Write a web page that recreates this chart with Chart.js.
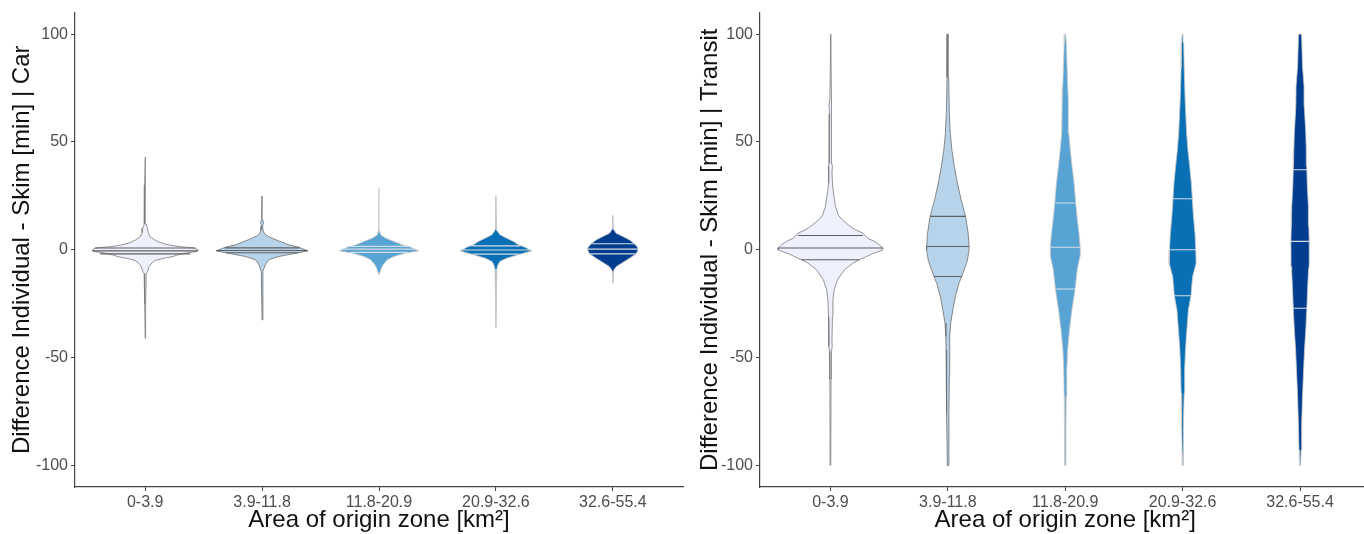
<!DOCTYPE html>
<html>
<head>
<meta charset="utf-8">
<script src="https://cdn.jsdelivr.net/npm/chart.js@4.4.1/dist/chart.umd.min.js"></script>
<style>
  html, body { margin: 0; padding: 0; background: #ffffff; width: 1364px; height: 534px; overflow: hidden; }
  #c1 { position: absolute; left: 0; top: 0; }
  #c2 { position: absolute; left: 688px; top: 0; }
</style>
</head>
<body>
<canvas id="c1" width="688" height="534"></canvas>
<canvas id="c2" width="690" height="534"></canvas>
<script>
// ---------- data ----------
const categories = ['0-3.9', '3.9-11.8', '11.8-20.9', '20.9-32.6', '32.6-55.4'];
const yTicks = [-100, -50, 0, 50, 100];
const fillColors = ['#eef0fd', '#b7d3e9', '#56a3d4', '#0a70b6', '#023e8f'];

// Car panel: density profile (value levels, top to bottom) and half-widths in category units
const carLevels = [
  [43, 30, 12, 10, 8, 6, 4.5, 3.5, 2.3, 1.5, 0.8, 0, -0.8, -1.4, -2.3, -3.1, -4, -5, -6, -7.7, -10, -11, -25, -41],
  [25, 14, 12.7, 11, 9, 7.5, 6.3, 4.8, 2.3, 1.2, -0.5, -1.5, -3.1, -4.6, -7, -8.5, -10, -32.5],
  [28.5, 9, 7, 5.4, 3.9, 2.3, 1.2, -0.5, -1.5, -3.1, -4.6, -7, -8.5, -11.6],
  [25, 10, 9, 7, 5.4, 3.9, 2.3, 1.2, -0.5, -1.9, -3.9, -5.4, -7, -9, -36],
  [16, 10, 9.3, 7.7, 6.2, 4.6, 2.8, 1.2, 0, -1.9, -3.9, -5.9, -7.7, -9, -10, -15.5]
];
const carWidths = [
  [0, 0.004, 0.007, 0.021, 0.026, 0.043, 0.085, 0.12, 0.197, 0.29, 0.427, 0.453, 0.444, 0.359, 0.282, 0.239, 0.154, 0.085, 0.06, 0.034, 0.021, 0.009, 0.004, 0],
  [0, 0.004, 0.013, 0.004, 0.009, 0.021, 0.05, 0.111, 0.228, 0.314, 0.393, 0.299, 0.143, 0.057, 0.026, 0.017, 0.007, 0],
  [0, 0.004, 0.013, 0.057, 0.128, 0.197, 0.271, 0.338, 0.228, 0.128, 0.071, 0.034, 0.021, 0],
  [0, 0.004, 0.009, 0.034, 0.092, 0.15, 0.192, 0.248, 0.306, 0.214, 0.092, 0.034, 0.017, 0.007, 0],
  [0, 0.004, 0.009, 0.028, 0.085, 0.143, 0.185, 0.211, 0.216, 0.199, 0.143, 0.085, 0.032, 0.013, 0.005, 0]
];
const carQuantiles = [[-1.9, -0.5, 0.8], [-1.4, -0.3, 0.9], [-1.2, 0.3, 1.6], [-2, -0.1, 1.8], [-1.9, 0.3, 2.8]];
const carQuantileWidths = [[0.385, 0.45, 0.427], [0.31, 0.39, 0.32], [0.245, 0.31, 0.25], [0.2, 0.29, 0.21], [0.195, 0.214, 0.185]];

// Transit panel
const transitLevels = [
  [100, 70, 66.5, 63, 50, 40, 38.7, 36, 31, 26.3, 20.1, 16, 13.9, 10.8, 9.3, 7.7, 5.4, 3.9, 2.3, 0.8, 0, -1, -2, -3.1, -4.6, -6, -9.3, -13.9, -18.6, -23.2, -31, -41.8, -44.9, -47, -60, -100],
  [100, 80, 63, 54, 46.4, 38.7, 31, 23.2, 15.5, 7.7, 1.5, 0, -5, -9.3, -12.4, -15.5, -21.7, -27.8, -34, -40.2, -46.4, -58.8, -75.7, -100],
  [100, 96, 75.8, 69.6, 54, 46.4, 38.7, 31, 23.2, 15.5, 7.7, 0.8, -3, -9.3, -18.6, -27.8, -37.1, -46.4, -55.7, -68, -83.5, -100],
  [100, 96, 85, 69.6, 54, 46.4, 38.7, 31, 23.2, 15.5, 7.7, 0, -6.2, -12.4, -21.3, -27.8, -37.1, -46.4, -55.7, -66.5, -80.4, -94.3, -100],
  [100, 85, 75.8, 66.5, 54, 46.4, 38.7, 29.4, 20.1, 10.8, 3.9, -7.7, -9.3, -18.6, -27.1, -37.1, -46.4, -58.8, -68, -80.4, -92.8, -100]
];
const transitWidths = [
  [0.003, 0.005, 0.013, 0.007, 0.01, 0.011, 0.017, 0.013, 0.017, 0.026, 0.043, 0.068, 0.1, 0.17, 0.213, 0.277, 0.315, 0.375, 0.417, 0.447, 0.447, 0.4, 0.349, 0.307, 0.247, 0.196, 0.119, 0.06, 0.032, 0.021, 0.017, 0.013, 0.015, 0.009, 0.005, 0.003],
  [0.004, 0.007, 0.013, 0.021, 0.034, 0.055, 0.081, 0.113, 0.151, 0.173, 0.181, 0.181, 0.166, 0.139, 0.118, 0.095, 0.064, 0.043, 0.024, 0.017, 0.015, 0.013, 0.009, 0.004],
  [0.003, 0.009, 0.021, 0.026, 0.03, 0.043, 0.058, 0.075, 0.087, 0.1, 0.117, 0.128, 0.126, 0.102, 0.083, 0.057, 0.036, 0.02, 0.013, 0.009, 0.006, 0.003],
  [0.003, 0.009, 0.013, 0.021, 0.034, 0.045, 0.06, 0.074, 0.083, 0.092, 0.105, 0.112, 0.115, 0.085, 0.071, 0.049, 0.036, 0.024, 0.017, 0.013, 0.009, 0.004, 0.003],
  [0.013, 0.021, 0.034, 0.036, 0.049, 0.053, 0.057, 0.062, 0.071, 0.075, 0.078, 0.077, 0.072, 0.064, 0.058, 0.049, 0.038, 0.028, 0.021, 0.014, 0.009, 0.004]
];
const transitQuantiles = [[-4.6, 0.8, 6.6], [-12.4, 1.5, 15.5], [-18.2, 1.2, 21.7], [-21.3, 0, 23.7], [-27.1, 3.9, 37.1]];
const transitQuantileWidths = [[0.247, 0.447, 0.277], [0.118, 0.181, 0.151], [0.083, 0.128, 0.089], [0.071, 0.112, 0.083], [0.058, 0.078, 0.057]];

// ---------- chart building ----------
const outlineColors = ['#7a7a7a', '#6f6f6f', '#c9c9c9', '#c9c9c9', '#c9c9c9'];
const quantileColors = ['#5e5e5e', '#5e5e5e', '#d6dde4', '#d6dde4', '#d6dde4'];

function buildDatasets(levels, widths, quants, qWidths) {
  const sets = [];
  levels.forEach((lv, i) => {
    const c = i + 1;
    const w = widths[i];
    const pts = [];
    for (let j = lv.length - 1; j >= 0; j--) pts.push({ x: c + w[j], y: lv[j] });
    for (let j = 0; j < lv.length; j++) pts.push({ x: c - w[j], y: lv[j] });
    pts.push({ x: c + w[lv.length - 1], y: lv[lv.length - 1] });
    sets.push({
      data: pts,
      borderColor: outlineColors[i],
      borderWidth: 0.8,
      backgroundColor: fillColors[i],
      fill: 'shape',
      tension: 0,
      pointRadius: 0,
      order: 2
    });
    quants[i].forEach((q, k) => {
      const qw = qWidths[i][k];
      sets.push({
        data: [{ x: c - qw, y: q }, { x: c + qw, y: q }],
        borderColor: quantileColors[i],
        borderWidth: 1.1,
        fill: false,
        pointRadius: 0,
        order: 1
      });
    });
  });
  return sets;
}

const tickFont = { family: "'Liberation Sans Narrow', 'Liberation Sans', Arial, sans-serif", size: 16 };
const titleFont = { family: "'Liberation Sans', Arial, sans-serif", size: 24, lineHeight: 1 };

function makeChart(canvasId, datasets, yTitle, yAxisWidth, padRight) {
  return new Chart(document.getElementById(canvasId), {
    type: 'line',
    data: { datasets },
    options: {
      responsive: false,
      animation: false,
      devicePixelRatio: 1,
      layout: { padding: { top: 12, right: padRight, left: 0, bottom: 0 } },
      plugins: { legend: { display: false }, tooltip: { enabled: false } },
      scales: {
        x: {
          type: 'linear',
          min: 0.4,
          max: 5.6,
          afterBuildTicks: (s) => { s.ticks = categories.map((_, i) => ({ value: i + 1 })); },
          afterFit: (s) => { s.height = 47; },
          ticks: {
            callback: (v) => categories[Math.round(v) - 1] || '',
            font: tickFont,
            color: '#4d4d4d',
            padding: 2,
            maxRotation: 0,
            autoSkip: false
          },
          grid: { display: true, drawOnChartArea: false, drawTicks: true, tickLength: 4, color: '#444444', lineWidth: 1 },
          border: { display: true, color: '#444444', width: 1.2 },
          title: { display: true, text: 'Area of origin zone [km²]', font: titleFont, color: '#111111', padding: { top: 0, bottom: 2 } }
        },
        y: {
          type: 'linear',
          min: -110,
          max: 110,
          afterBuildTicks: (s) => { s.ticks = yTicks.map(v => ({ value: v })); },
          afterFit: (s) => { s.width = yAxisWidth; },
          ticks: { font: tickFont, color: '#4d4d4d', padding: 3 },
          grid: { display: true, drawOnChartArea: false, drawTicks: true, tickLength: 4, color: '#444444', lineWidth: 1 },
          border: { display: true, color: '#444444', width: 1.2 },
          title: { display: true, text: yTitle, font: titleFont, color: '#111111', padding: { top: 10, bottom: 0 } }
        }
      }
    }
  });
}

makeChart('c1', buildDatasets(carLevels, carWidths, carQuantiles, carQuantileWidths),
  'Difference Individual - Skim [min] | Car', 75, 5);
makeChart('c2', buildDatasets(transitLevels, transitWidths, transitQuantiles, transitQuantileWidths),
  'Difference Individual - Skim [min] | Transit', 72, 7.5);
</script>
</body>
</html>
